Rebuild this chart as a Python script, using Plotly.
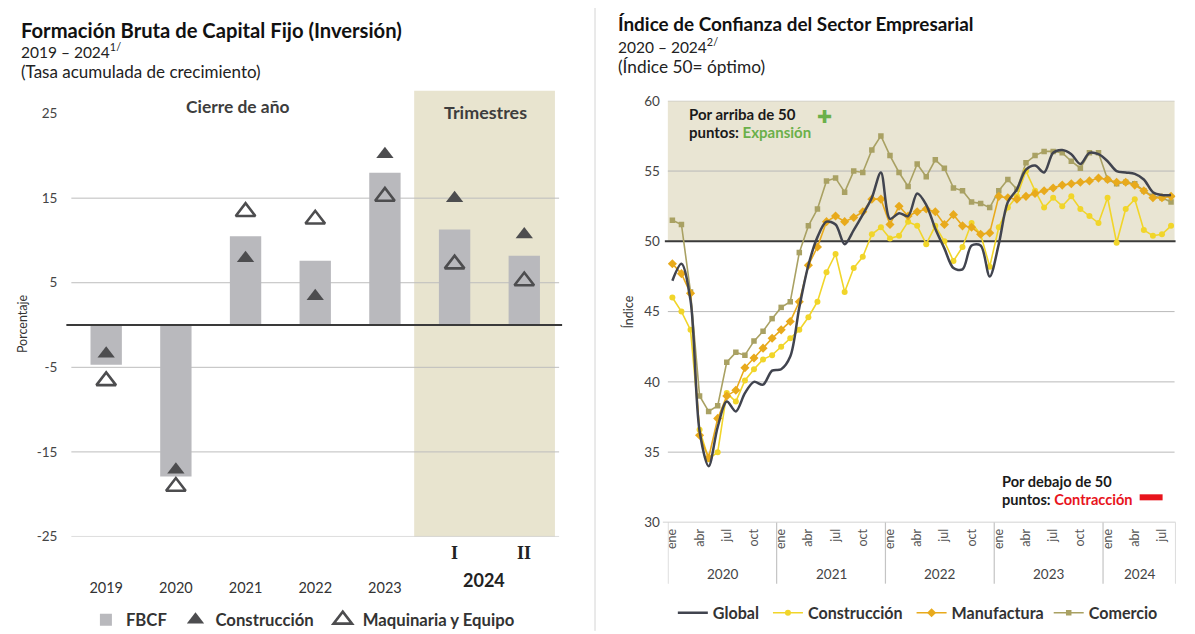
import plotly.graph_objects as go

# Figure size equals the window. The photographed page shows the figure shifted by the
# page margin and slightly squeezed vertically, so positions are pre-compensated.
WF, HF = 1195, 634
OX, OY, SY = 10.5, 16.0, 0.971
NB = "\u00a0"


def px(x):
    return (x - OX) / WF


def py(y):
    return 1 - (y / SY - OY) / HF


FONT = "Lato"

# ---------------- Left chart data ----------------
fbcf_cats = ["2019", "2020", "2021", "2022", "2023", "I", "II"]
fbcf_vals = [-4.7, -17.9, 10.5, 7.6, 18.0, 11.3, 8.2]
construccion_inv = [-3.4, -17.1, 7.9, 3.4, 20.2, 15.0, 10.7]
maquinaria_inv = [-6.6, -19.1, 13.4, 12.5, 15.2, 7.2, 5.2]
left_ticks = [-25, -15, -5, 5, 15, 25]
left_grid = [-25, -15, -5, 5, 15]

# ---------------- Right chart data ----------------
month_names = ["ene", "feb", "mar", "abr", "may", "jun", "jul", "ago", "sep", "oct", "nov", "dic"]
year_labels = ["2020", "2021", "2022", "2023", "2024"]
months_per_year = [12, 12, 12, 12, 8]

global_idx = [
    47.2, 48.4, 45.8, 36.5, 34.0, 36.8, 38.6, 37.9, 39.2, 40.0, 39.8, 40.8,
    40.9, 41.8, 45.3, 48.3, 50.3, 51.4, 51.2, 49.8, 50.8, 51.9, 53.1, 54.9,
    51.6, 52.0, 51.8, 53.4, 52.6, 50.9, 49.5, 48.1, 48.0, 49.7, 49.7, 47.5,
    49.8, 52.8, 53.7, 55.1, 55.4, 54.9, 56.3, 56.5, 56.2, 55.5, 56.3, 56.2,
    55.7, 55.0, 54.9, 54.8, 54.4, 53.5, 53.3, 53.3,
]
construccion_idx = [
    46.0, 45.0, 43.7, 36.6, 34.5, 35.0, 39.2, 38.6, 40.1, 40.9, 41.6, 41.9,
    42.5, 43.1, 43.7, 44.6, 45.7, 47.8, 49.1, 46.4, 48.1, 48.9, 50.5, 51.0,
    50.2, 50.4, 51.4, 51.1, 49.8, 51.1, 50.0, 48.6, 49.6, 51.3, 50.5, 48.2,
    51.0, 52.4, 53.2, 55.0, 53.6, 52.4, 53.1, 52.5, 53.2, 52.3, 51.8, 51.3,
    53.1, 49.9, 52.3, 53.0, 50.8, 50.4, 50.5, 51.1,
]
manufactura_idx = [
    48.4, 47.7, 46.3, 36.2, 34.6, 37.4, 39.0, 39.4, 41.0, 41.7, 42.4, 43.1,
    43.7, 44.3, 45.7, 48.3, 49.6, 51.4, 51.8, 51.4, 51.7, 52.1, 53.0, 53.0,
    51.2, 52.5, 51.8, 52.1, 52.3, 52.1, 51.2, 51.9, 51.1, 51.0, 50.5, 50.6,
    53.2, 53.1, 53.0, 53.2, 53.4, 53.6, 53.8, 54.0, 54.1, 54.2, 54.3, 54.5,
    54.4, 54.2, 54.2, 54.0, 53.6, 53.1, 53.1, 53.2,
]
comercio_idx = [
    51.5, 51.2, 46.4, 39.0, 37.9, 38.3, 41.4, 42.1, 41.9, 42.9, 43.6, 44.5,
    45.3, 45.7, 49.2, 51.1, 52.3, 54.3, 54.5, 53.5, 55.0, 54.9, 56.5, 57.5,
    56.1, 54.9, 53.9, 55.5, 54.6, 55.8, 55.2, 53.8, 53.6, 52.8, 52.7, 52.4,
    53.6, 54.4, 53.7, 55.6, 56.1, 56.4, 56.4, 56.3, 55.7, 55.2, 56.3, 56.3,
    54.4, 54.1, 54.2, 54.1, 53.6, 53.2, 53.1, 52.8,
]
right_ticks = [30, 35, 40, 45, 50, 55, 60]

n_months = len(global_idx)
xm = list(range(n_months))
month_tickvals = [i for i in xm if i % 12 in (0, 3, 6, 9)]
month_ticktext = [month_names[i % 12] for i in month_tickvals]

fig = go.Figure()

# ---------------- Left traces ----------------
fig.add_trace(go.Bar(
    x=fbcf_cats, y=fbcf_vals, name="FBCF" + NB, width=0.45,
    marker=dict(color="#b9b9bd", line=dict(width=0)),
    xaxis="x", yaxis="y", legend="legend",
))
fig.add_trace(go.Scatter(
    x=fbcf_cats, y=construccion_inv, name="Construcción" + NB, mode="markers",
    marker=dict(symbol="triangle-up", size=15, color="#4d4d4f"),
    xaxis="x", yaxis="y", legend="legend",
))
fig.add_trace(go.Scatter(
    x=fbcf_cats, y=maquinaria_inv, name="Maquinaria y Equipo", mode="markers",
    marker=dict(symbol="triangle-up-open", size=17, color="#4d4d4f",
                line=dict(width=2.6, color="#4d4d4f")),
    xaxis="x", yaxis="y", legend="legend",
))

# ---------------- Right traces ----------------
fig.add_trace(go.Scatter(
    x=xm, y=comercio_idx, name="Comercio", mode="lines+markers",
    line=dict(color="#a9a163", width=1.6),
    marker=dict(symbol="square", size=5.5, color="#a9a163"),
    xaxis="x2", yaxis="y2", legend="legend2", legendrank=4,
))
fig.add_trace(go.Scatter(
    x=xm, y=construccion_idx, name="Construcción" + NB, mode="lines+markers",
    line=dict(color="#f1d52a", width=1.6),
    marker=dict(symbol="circle", size=6, color="#f1d52a"),
    xaxis="x2", yaxis="y2", legend="legend2", legendrank=2,
))
fig.add_trace(go.Scatter(
    x=xm, y=manufactura_idx, name="Manufactura", mode="lines+markers",
    line=dict(color="#e8aa1c", width=1.6),
    marker=dict(symbol="diamond", size=7, color="#e8aa1c"),
    xaxis="x2", yaxis="y2", legend="legend2", legendrank=3,
))
fig.add_trace(go.Scatter(
    x=xm, y=global_idx, name="Global" + NB, mode="lines",
    line=dict(color="#41444f", width=2.5, shape="spline", smoothing=0.9),
    xaxis="x2", yaxis="y2", legend="legend2", legendrank=1,
))

shapes = []
# Left shading (Trimestres)
shapes.append(dict(type="rect", xref="x", yref="paper", x0=4.42, x1=6.44,
                   y0=py(534), y1=py(90), fillcolor="#e8e4cf", line=dict(width=0), layer="below"))
for g in left_grid:
    shapes.append(dict(type="line", xref="paper", yref="y", x0=px(71), x1=px(560), y0=g, y1=g,
                       line=dict(color="#bdbdbd", width=1), layer="below"))
shapes.append(dict(type="line", xref="paper", yref="y", x0=px(66), x1=px(563), y0=0, y1=0,
                   line=dict(color="#3a3a3a", width=2), layer="above"))

# Divider between panels
shapes.append(dict(type="line", xref="paper", yref="paper", x0=px(596), x1=px(596), y0=py(4), y1=py(628),
                   line=dict(color="#d4d4d4", width=1)))

# Right shading 50-60
shapes.append(dict(type="rect", xref="paper", yref="y2", x0=px(669), x1=px(1177), y0=50, y1=60,
                   fillcolor="#e9e5d3", line=dict(width=0), layer="below"))
for g in [35, 40, 45, 55, 60]:
    shapes.append(dict(type="line", xref="paper", yref="y2", x0=px(669), x1=px(1177), y0=g, y1=g,
                       line=dict(color="#b9b9b9", width=1), layer="below"))
shapes.append(dict(type="line", xref="paper", yref="y2", x0=px(666), x1=px(1178), y0=50, y1=50,
                   line=dict(color="#3a3a3a", width=2), layer="below"))
shapes.append(dict(type="line", xref="paper", yref="y2", x0=px(664), x1=px(1178), y0=30, y1=30,
                   line=dict(color="#c4c4c4", width=1.2), layer="below"))
# year separators
bounds = [-0.5]
for m in months_per_year:
    bounds.append(bounds[-1] + m)
for b in bounds:
    shapes.append(dict(type="line", xref="x2", yref="paper", x0=b, x1=b, y0=py(520), y1=py(581),
                       line=dict(color="#c4c4c4", width=1.2)))
# red contraction dash
shapes.append(dict(type="rect", xref="paper", yref="paper", x0=px(1142), x1=px(1165), y0=py(498), y1=py(492),
                   fillcolor="#e8141c", line=dict(width=0)))

annotations = []


def ann(text, x, y, size=14, color="#222", bold=False, xanchor="left", family=FONT, **kw):
    t = "<b>" + text + "</b>" if bold else text
    d = dict(text=t, x=px(x), y=py(y), xref="paper", yref="paper", showarrow=False,
             xanchor=xanchor, yanchor="middle", font=dict(size=size, color=color, family=family))
    d.update(kw)
    annotations.append(d)


# Left titles
ann("Formación Bruta de Capital Fijo (Inversión)", 18.7, 29, size=20.2, bold=True, color="#111")
ann("2019 – 2024<sup>1/</sup>", 18.7, 50, size=15.5, color="#222")
ann("(Tasa acumulada de crecimiento)", 18.7, 71, size=17.0, color="#222")
ann("Cierre de año", 238, 106, size=17.4, bold=True, color="#3d3d3d", xanchor="center")
ann("Trimestres", 486, 111, size=17.9, bold=True, color="#3d3d3d", xanchor="center")
ann("Porcentaje", 22, 322, size=12.5, color="#333", xanchor="center", textangle=-90)
ann("2024", 485, 577, size=18, bold=True, color="#222", xanchor="center")
for lab in ["I", "II"]:
    annotations.append(dict(text="<b>" + lab + "</b>", x=lab, y=py(550), xref="x", yref="paper",
                            showarrow=False, xanchor="center", yanchor="middle",
                            font=dict(size=18, color="#222", family="Liberation Serif")))

# Right titles
ann("Índice de Confianza del Sector Empresarial", 616.7, 23, size=18.9, bold=True, color="#111")
ann("2020 – 2024<sup>2/</sup>", 616.7, 45, size=15.5, color="#222")
ann("(Índice 50= óptimo)", 616.7, 66, size=17.3, color="#222")
ann("Índice", 629, 310, size=12.5, color="#333", xanchor="center", textangle=-90)
ann("Por arriba de 50", 688.7, 113, size=15.0, bold=True, color="#1a1a1a")
ann("puntos: <span style='color:#6bb04a'>Expansión</span>", 688.7, 131, size=15.0, bold=True, color="#1a1a1a")
ann("✚", 826, 116, size=18, color="#6bb04a", xanchor="center", family="DejaVu Sans")
ann("Por debajo de 50", 1001.7, 479, size=14.6, bold=True, color="#1a1a1a")
ann("puntos: <span style='color:#e8141c'>Contracción</span>", 1001.7, 497, size=14.6, bold=True, color="#1a1a1a")

# Year labels under monthly axis
start = 0
for yl, m in zip(year_labels, months_per_year):
    annotations.append(dict(text=yl, x=start + (m - 1) / 2, y=py(571), xref="x2", yref="paper",
                            showarrow=False, xanchor="center", yanchor="middle",
                            font=dict(size=13.5, color="#444", family=FONT)))
    start += m

fig.update_layout(
    width=WF, height=HF,
    margin=dict(l=0, r=0, t=0, b=0),
    paper_bgcolor="white", plot_bgcolor="rgba(0,0,0,0)",
    font=dict(family=FONT, color="#444"),
    shapes=shapes, annotations=annotations,
    xaxis=dict(domain=[px(71), px(560)], anchor="y", type="category",
               categoryorder="array", categoryarray=fbcf_cats, range=[-0.5, 6.5],
               tickvals=fbcf_cats[:5], ticktext=fbcf_cats[:5], showgrid=False, zeroline=False,
               showline=False, ticks="", ticklabelstandoff=41,
               tickfont=dict(size=14.5, color="#333", family=FONT)),
    yaxis=dict(domain=[py(534), py(90)], anchor="x", range=[-25, 27.7],
               tickvals=left_ticks, ticktext=[str(t) for t in left_ticks],
               showgrid=False, zeroline=False, showline=False, ticks="", ticklabelstandoff=13,
               tickfont=dict(size=13.5, color="#444", family=FONT)),
    xaxis2=dict(domain=[px(669), px(1178)], anchor="y2", range=[-0.5, n_months - 0.5],
                tickvals=month_tickvals, ticktext=month_ticktext, tickangle=-90,
                showgrid=False, zeroline=False, showline=False, ticks="", ticklabelstandoff=3,
                tickfont=dict(size=12.5, color="#555", family=FONT)),
    yaxis2=dict(domain=[py(520), py(100)], anchor="x2", range=[30, 60],
                tickvals=right_ticks, ticktext=[str(t) for t in right_ticks],
                showgrid=False, zeroline=False, showline=False, ticks="", ticklabelstandoff=7,
                tickfont=dict(size=13.5, color="#444", family=FONT)),
    legend=dict(orientation="h", x=px(85.6), y=py(617), xanchor="left", yanchor="middle",
                font=dict(size=16.7, color="#333", family=FONT, weight="bold"), bgcolor="rgba(0,0,0,0)",
                itemclick=False, itemdoubleclick=False, tracegroupgap=0),
    legend2=dict(orientation="h", x=px(674), y=py(610), xanchor="left", yanchor="middle",
                 font=dict(size=16.1, color="#333", family=FONT, weight="bold"), bgcolor="rgba(0,0,0,0)",
                 traceorder="normal", itemclick=False, itemdoubleclick=False),
)

fig.write_html("out.html", config={"displayModeBar": False})
